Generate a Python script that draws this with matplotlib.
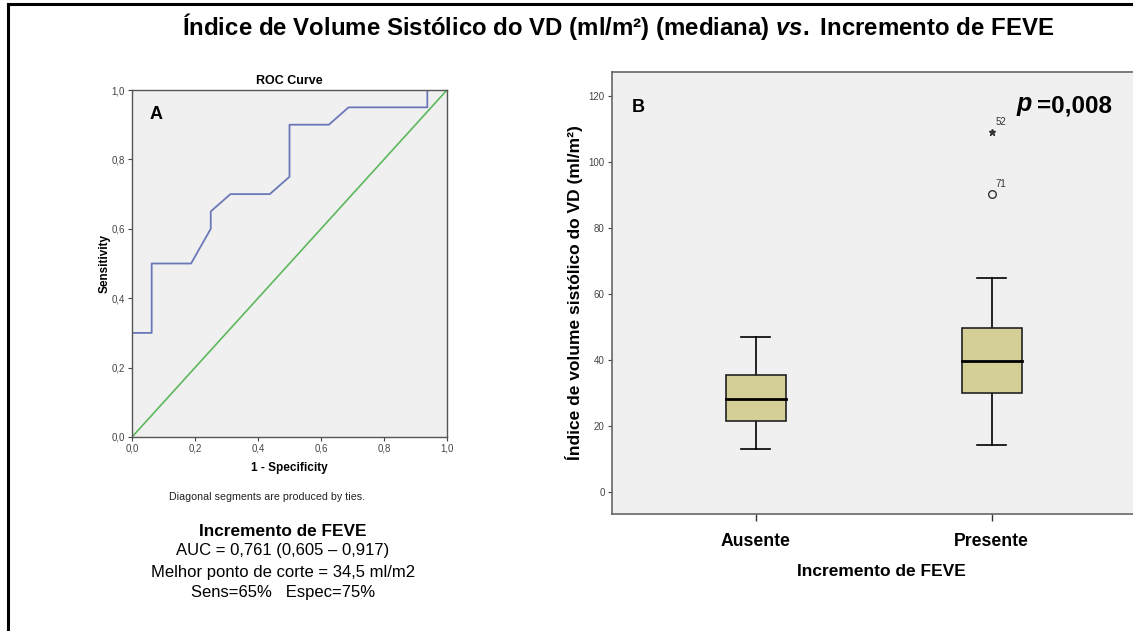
import matplotlib
matplotlib.use("Agg")
import matplotlib.pyplot as plt
from matplotlib.patches import Rectangle
from matplotlib.lines import Line2D

plt.rcParams["font.family"] = ["Liberation Sans", "DejaVu Sans"]
plt.rcParams["mathtext.fontset"] = "custom"
plt.rcParams["mathtext.rm"] = "Liberation Sans:bold"
plt.rcParams["mathtext.bf"] = "Liberation Sans:bold"
plt.rcParams["mathtext.it"] = "Liberation Sans:italic:bold"

# ROC curve (1 - specificity, sensitivity)
roc_fpr = [0.0, 0.0, 0.0625, 0.0625, 0.1875, 0.25, 0.25, 0.3125, 0.4375, 0.5, 0.5, 0.625, 0.6875, 0.9375, 0.9375, 1.0]
roc_tpr = [0.0, 0.3, 0.3, 0.5, 0.5, 0.6, 0.65, 0.7, 0.7, 0.75, 0.9, 0.9, 0.95, 0.95, 1.0, 1.0]
roc_ticks = [0.0, 0.2, 0.4, 0.6, 0.8, 1.0]

# Boxplot summary statistics per group
groups = ["Ausente", "Presente"]
whisker_low = [13.0, 14.1]
q1 = [21.5, 29.9]
medians = [28.1, 39.7]
q3 = [35.5, 49.6]
whisker_high = [47.1, 64.9]
outlier_values = [90.2, 109.2]
outlier_ids = ["71", "52"]
outlier_kinds = ["o", "*"]
box_ticks = [0, 20, 40, 60, 80, 100, 120]

W, H = 1133, 631
fig = plt.figure(figsize=(W / 100, H / 100), dpi=100)
fig.patch.set_facecolor("white")

def fx(px):
    return px / W

def fy(py):
    return 1 - py / H

# frame around the figure (left and top edges)
fig.add_artist(Line2D([fx(7.5), fx(7.5)], [fy(3.5), 0], color="black", lw=2.2))
fig.add_artist(Line2D([fx(7.5), 1], [fy(3.5), fy(3.5)], color="black", lw=2.2))

fig.text(fx(618), fy(27), "Índice de Volume Sistólico do VD (ml/m²) (mediana) $\\mathit{vs.}$ Incremento de FEVE",
         ha="center", va="center", fontsize=17.3, fontweight="bold")

tick_col = "#444444"

# ---- Panel A: ROC curve ----
axA = fig.add_axes([fx(132), fy(437), fx(447) - fx(132), fy(90) - fy(437)])
axA.set_facecolor("#f0f0f0")
axA.plot([0, 1], [0, 1], color="#5cb85c", lw=1.2)
axA.plot(roc_fpr, roc_tpr, color="#6b78b8", lw=1.3)
axA.set_xlim(0, 1)
axA.set_ylim(0, 1)
axA.set_xticks(roc_ticks)
axA.set_yticks(roc_ticks)
lbl = [f"{t:.1f}".replace(".", ",") for t in roc_ticks]
axA.set_xticklabels(lbl)
axA.set_yticklabels(lbl)
axA.tick_params(labelsize=7, colors=tick_col, length=3, width=0.8, pad=2)
for s in axA.spines.values():
    s.set_color("#555555")
    s.set_linewidth(1.0)
axA.set_title("ROC Curve", fontsize=9, fontweight="bold", pad=4)
axA.set_xlabel("1 - Specificity", fontsize=8.5, fontweight="bold", labelpad=6)
axA.set_ylabel("Sensitivity", fontsize=8.5, fontweight="bold", labelpad=1)
axA.text(0.055, 0.93, "A", transform=axA.transAxes, fontsize=13, fontweight="bold", va="center")

fig.text(fx(267), fy(497), "Diagonal segments are produced by ties.", ha="center", va="center",
         fontsize=7.7, color="#222222")
fig.text(fx(283), fy(531), "Incremento de FEVE", ha="center", va="center", fontsize=12.4,
         fontweight="bold")
fig.text(fx(283), fy(551), "AUC = 0,761 (0,605 – 0,917)", ha="center", va="center", fontsize=12)
fig.text(fx(283), fy(572), "Melhor ponto de corte = 34,5 ml/m2", ha="center", va="center", fontsize=12)
fig.text(fx(283), fy(593), "Sens=65%   Espec=75%", ha="center", va="center", fontsize=12)

# ---- Panel B: boxplot ----
left, right, top, bottom = 611.7, 1136, 72, 514
cx0, px_per_unit = 755.5, 236.2
axB = fig.add_axes([fx(left), fy(bottom), fx(right) - fx(left), fy(top) - fy(bottom)])
axB.set_facecolor("#f0f0f0")
axB.set_xlim((left - cx0) / px_per_unit, (right - cx0) / px_per_unit)
axB.set_ylim(-6.7, 127.3)
box_w = 60 / px_per_unit
cap_w = 29 / px_per_unit
for i in range(len(groups)):
    axB.add_patch(Rectangle((i - box_w / 2, q1[i]), box_w, q3[i] - q1[i],
                            facecolor="#d4cf97", edgecolor="#222222", lw=1.2, zorder=3))
    axB.plot([i - box_w / 2, i + box_w / 2], [medians[i]] * 2, color="black", lw=2, zorder=4)
    axB.plot([i, i], [whisker_low[i], q1[i]], color="black", lw=1.2, zorder=2)
    axB.plot([i, i], [q3[i], whisker_high[i]], color="black", lw=1.2, zorder=2)
    for v in (whisker_low[i], whisker_high[i]):
        axB.plot([i - cap_w / 2, i + cap_w / 2], [v, v], color="black", lw=1.2, zorder=2)

for v, name, kind in zip(outlier_values, outlier_ids, outlier_kinds):
    if kind == "o":
        axB.plot([1], [v], marker="o", ms=5.5, mfc="none", mec="#333333", mew=1.0)
    else:
        axB.plot([1], [v], marker="*", ms=5, mfc="#333333", mec="#333333")
    axB.text(1 + 0.018, v + 3, name, fontsize=7, color="#333333", va="center")

axB.set_xticks(range(len(groups)))
axB.set_xticklabels(groups, fontsize=12.7, fontweight="bold")
axB.set_yticks(box_ticks)
axB.set_yticklabels([str(t) for t in box_ticks], fontsize=7, color=tick_col)
axB.tick_params(axis="y", colors=tick_col, length=3, width=0.8, pad=2)
axB.tick_params(axis="x", length=5, width=1, pad=9, color="#333333")
for s in axB.spines.values():
    s.set_color("#666666")
    s.set_linewidth(1.2)
axB.set_ylabel("Índice de volume sistólico do VD (ml/m²)", fontsize=12.5, fontweight="bold", labelpad=4)
fig.text(fx(881), fy(572), "Incremento de FEVE", ha="center", va="center", fontsize=12.5,
         fontweight="bold")
axB.text((632 - left) / (right - left), (bottom - 107) / (bottom - top), "B",
         transform=axB.transAxes, fontsize=13, fontweight="bold", va="center")
fig.text(fx(1016), fy(106), "$\\mathit{p}$", fontsize=18, ha="left", va="center")
fig.text(fx(1037), fy(106), "=0,008", fontsize=17.5, ha="left", va="center", fontweight="bold")

fig.savefig("out.png", dpi=100)
